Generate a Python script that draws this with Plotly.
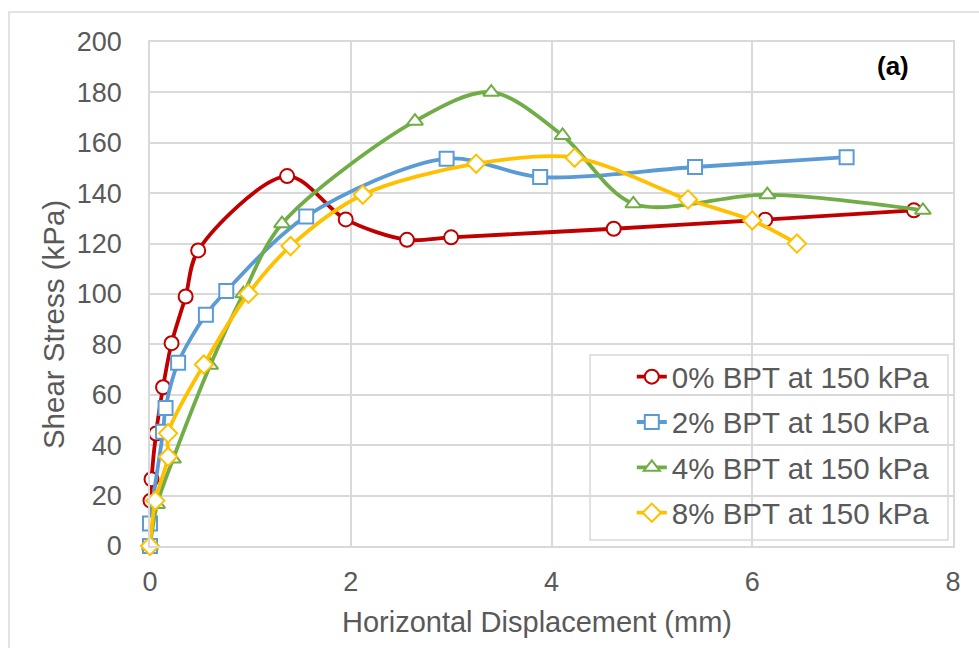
import plotly.graph_objects as go

# 0% BPT
x0 = [0, 0.005, 0.015, 0.06, 0.13, 0.215, 0.355, 0.48, 1.366, 1.95, 2.56, 3.0, 4.62, 6.13, 7.61]
y0 = [0, 18, 26.5, 44.6, 63, 80.5, 99, 117.3, 146.8, 129.6, 121.5, 122.5, 125.9, 129.5, 133.2]
# 2% BPT
x2 = [0, 0, 0.13, 0.155, 0.28, 0.557, 0.76, 1.556, 2.955, 3.887, 5.43, 6.94]
y2 = [0, 8.9, 45.3, 54.8, 72.7, 91.8, 101.2, 130.8, 153.7, 146.4, 150.4, 154.3]
# 4% BPT
x4 = [0, 0.07, 0.23, 0.6, 0.93, 1.315, 2.64, 3.4, 4.11, 4.815, 6.15, 7.7]
y4 = [0, 16.5, 34.5, 71.7, 100.1, 127.9, 168.6, 180.1, 162.9, 135.8, 139.4, 133.2]
# 8% BPT
x8 = [0, 0.053, 0.18, 0.18, 0.537, 0.98, 1.4, 2.12, 3.25, 4.23, 5.36, 6.0, 6.445]
y8 = [0, 18, 35.4, 44.7, 72, 100.1, 119, 139.4, 151.7, 154.1, 137.5, 129.2, 120]

names = ["0% BPT at 150 kPa", "2% BPT at 150 kPa", "4% BPT at 150 kPa", "8% BPT at 150 kPa"]
colors = ["#C00000", "#5B9BD5", "#70AD47", "#FFC000"]
symbols = ["circle", "square", "triangle-up", "diamond"]
sizes = [14, 14, 14, 14]

fig = go.Figure()
for i, (xs, ys) in enumerate([(x0, y0), (x2, y2), (x4, y4), (x8, y8)]):
    fig.add_trace(go.Scatter(
        x=xs, y=ys, name=names[i], mode="lines+markers",
        line=dict(color=colors[i], width=3.8, shape="spline", smoothing=0.9),
        marker=dict(symbol=symbols[i], size=sizes[i], color="white",
                    line=dict(color=colors[i], width=2)),
        legendgroup=f"g{i}", cliponaxis=False,
    ))

grid = "#D9D9D9"
FONT = "Liberation Sans, Arial, sans-serif"
tickfont = dict(family=FONT, size=27, color="#595959")

fig.update_layout(
    width=979, height=648,
    margin=dict(l=150, r=26, t=42, b=102),
    paper_bgcolor="white", plot_bgcolor="white",
    showlegend=True,
    legend=dict(
        x=0.600, y=0.387, xanchor="left", yanchor="top",
        bgcolor="rgba(0,0,0,0)", borderwidth=0,
        font=dict(family=FONT, size=29.5, color="#595959"),
        tracegroupgap=4,
    ),
    xaxis=dict(
        range=[0, 8], dtick=2, tick0=0,
        showgrid=True, gridcolor=grid, gridwidth=1.5,
        showline=True, linecolor=grid, linewidth=1.5, mirror=True,
        zeroline=False, ticks="", tickfont=tickfont, ticklabelstandoff=11,
    ),
    yaxis=dict(
        range=[0, 200], dtick=20, tick0=0,
        showgrid=True, gridcolor=grid, gridwidth=1.5,
        showline=True, linecolor=grid, linewidth=1.5, mirror=True,
        zeroline=False, ticks="", tickfont=tickfont, ticklabelstandoff=21,
    ),
    annotations=[
        dict(text="Horizontal Displacement (mm)", xref="paper", yref="paper",
             x=0.482, y=-0.151, xanchor="center", yanchor="middle", showarrow=False,
             font=dict(family=FONT, size=29, color="#595959")),
        dict(text="Shear Stress (kPa)", xref="paper", yref="paper",
             x=-0.121, y=0.44, xanchor="center", yanchor="middle", showarrow=False,
             textangle=-90,
             font=dict(family=FONT, size=29.5, color="#595959")),
        dict(text="<b>(a)</b>", xref="paper", yref="paper",
             x=0.925, y=0.952, xanchor="center", yanchor="middle", showarrow=False,
             font=dict(family=FONT, size=26, color="black")),
    ],
    shapes=[
        dict(type="rect", xref="paper", yref="paper",
             x0=-0.1756, x1=1.2, y0=-0.4, y1=1.0595,
             line=dict(color=grid, width=1.5), fillcolor="rgba(0,0,0,0)", layer="below"),
        dict(type="rect", xref="paper", yref="paper",
             x0=(590 - 150) / 803, x1=(948 - 150) / 803,
             y0=(546 - 540) / 504, y1=(546 - 355) / 504,
             line=dict(color=grid, width=1.5), fillcolor="white", layer="between"),
    ],
)

fig.write_html("out.html")
